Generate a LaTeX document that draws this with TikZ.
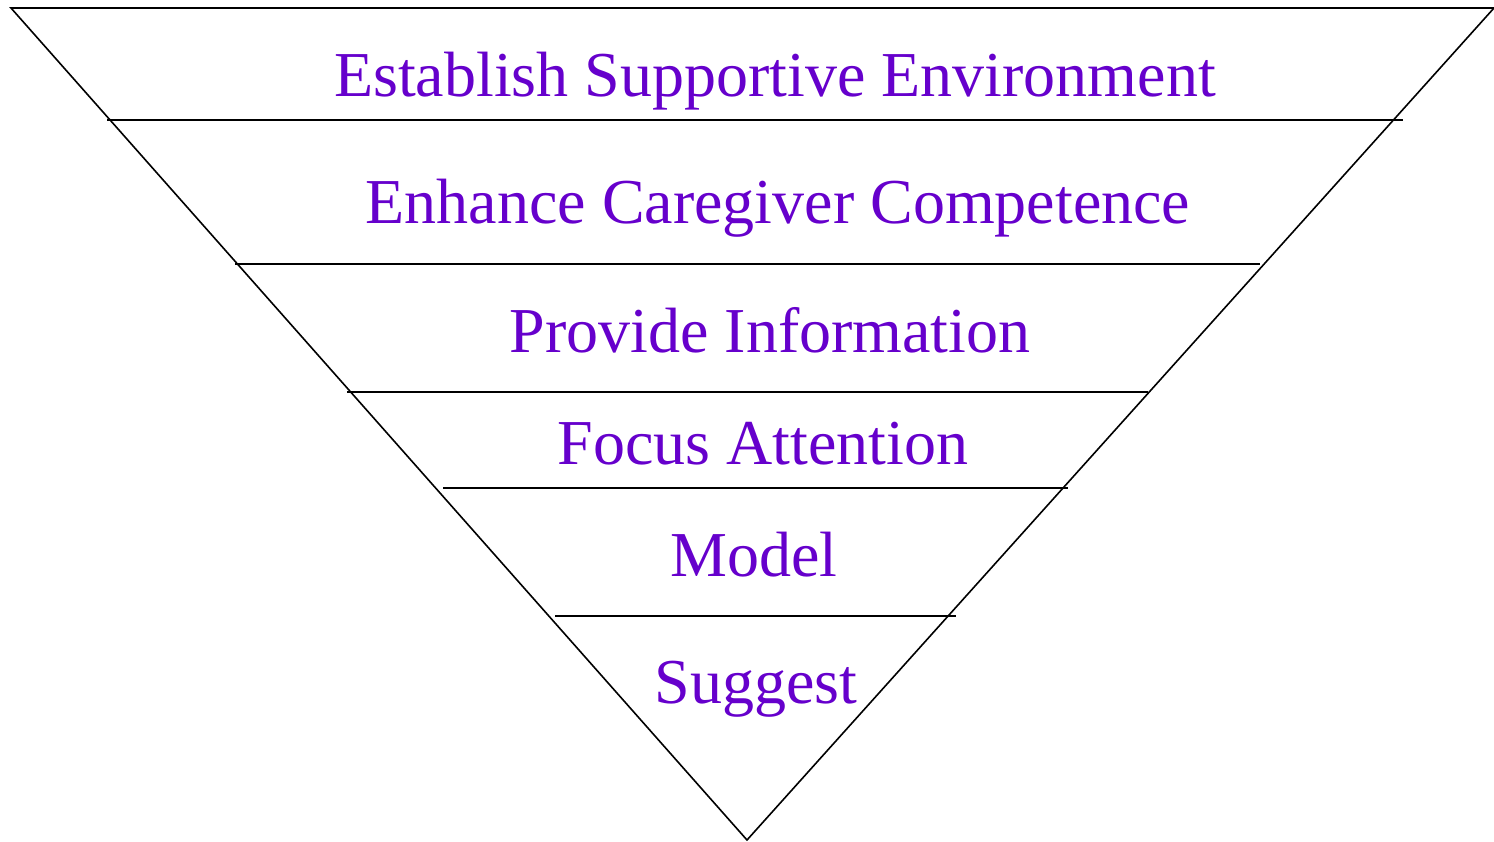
\documentclass[tikz,border=0pt]{standalone}
\usepackage{fontspec}
\setmainfont{Liberation Serif}
\definecolor{levelpurple}{HTML}{6600CC}
\tikzset{
  level/.style={anchor=base, text=levelpurple, inner sep=0pt,
    font=\fontsize{64}{77}\selectfont},
  edge/.style={line width=1.6pt, black}
}

\begin{document}
\begin{tikzpicture}[x=1pt,y=-1pt]
  \useasboundingbox (0,0) rectangle (1494,841);
  % triangle
  \coordinate (tl) at (11,8);
  \coordinate (tr) at (1494,8);
  \coordinate (apex) at (747,840);
  \draw[edge] (tl) -- (tr) -- (apex) -- cycle;
  % separators
  \foreach \y/\xa/\xb in {120/107/1403, 264/235/1260, 392/347/1148,
                          488/443/1068, 616/555/956}
    \draw[edge] (\xa,\y) -- (\xb,\y);
  % levels
  \node[level] (establish) at (775,96) {Establish Supportive Environment};
  \node[level] (enhance) at (778,223) {Enhance Caregiver Competence};
  \node[level] (inform) at (770,352) {Provide Information};
  \node[level] (focus) at (763,464) {Focus Attention};
  \node[level] (model) at (754,576) {Model};
  \node[level] (suggest) at (756,703) {Suggest};
\end{tikzpicture}
\end{document}
